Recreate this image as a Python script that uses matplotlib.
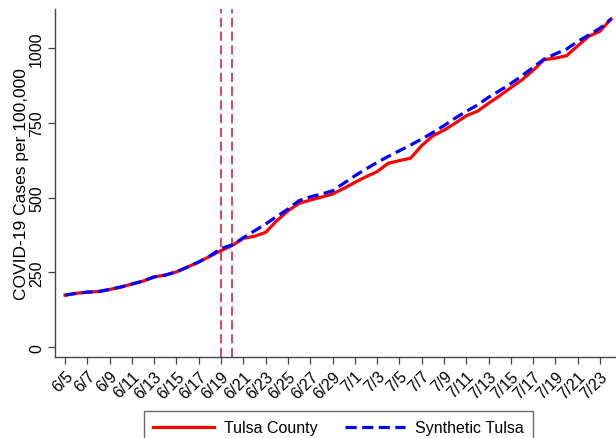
import matplotlib
matplotlib.use('Agg')
import matplotlib.pyplot as plt

plt.rcParams['font.family'] = ['Liberation Sans', 'DejaVu Sans']

# daily dates, 6/5 through 7/24
dates = ['6/5', '6/6', '6/7', '6/8', '6/9', '6/10', '6/11', '6/12', '6/13', '6/14',
         '6/15', '6/16', '6/17', '6/18', '6/19', '6/20', '6/21', '6/22', '6/23', '6/24',
         '6/25', '6/26', '6/27', '6/28', '6/29', '6/30', '7/1', '7/2', '7/3', '7/4',
         '7/5', '7/6', '7/7', '7/8', '7/9', '7/10', '7/11', '7/12', '7/13', '7/14',
         '7/15', '7/16', '7/17', '7/18', '7/19', '7/20', '7/21', '7/22', '7/23', '7/24']

tulsa = [174, 180, 184, 186, 193, 201, 211, 221, 235, 241,
         252, 268, 285, 304, 323, 340, 364, 371, 384, 423,
         456, 481, 492, 502, 512, 531, 551, 570, 587, 615,
         624, 632, 674, 707, 726, 749, 774, 789, 816, 841,
         868, 894, 926, 962, 967, 975, 1008, 1040, 1057, 1098]

synthetic = [174, 180, 184, 186, 193, 201, 211, 221, 235, 241,
             252, 268, 285, 305, 330, 342, 366, 389, 412, 437,
             462, 490, 503, 512, 523, 548, 573, 596, 618, 638,
             657, 676, 696, 718, 741, 766, 789, 810, 836, 858,
             882, 908, 936, 964, 981, 997, 1023, 1044, 1067, 1098]

event_dates = ['6/19', '6/20']
yticks = [0, 250, 500, 750, 1000]

x = list(range(len(dates)))

fig = plt.figure(figsize=(6.16, 4.39), dpi=100)
ax = fig.add_axes([0.0893, 0.1845, 0.91, 0.7925])

for d in event_dates:
    ax.axvline(dates.index(d), color='#c8143c', lw=1.1, linestyle=(0, (6, 3)), zorder=1)

ax.plot(x, tulsa, color='#ff0000', lw=2.3, label='Tulsa County', zorder=3)
ax.plot(x, synthetic, color='#0000ff', lw=2.3, linestyle=(0, (3.5, 1.7)),
        label='Synthetic Tulsa', zorder=4)

ax.set_xlim(-0.9, 49.4)
ax.set_ylim(-33, 1131)

ax.set_xticks(x[::2])
ax.set_xticklabels(dates[::2], rotation=45, ha='right', rotation_mode='anchor', fontsize=11.5)
ax.set_yticks(yticks)
ax.set_yticklabels([str(v) for v in yticks], rotation=90, va='center', fontsize=11.5)
ax.set_ylabel('COVID-19 Cases per 100,000', fontsize=12.5, labelpad=0)

for side in ['top', 'right']:
    ax.spines[side].set_visible(False)
for side in ['left', 'bottom']:
    ax.spines[side].set_color('#444444')
    ax.spines[side].set_linewidth(1.0)
ax.tick_params(axis='both', length=5, width=0.9, color='#444444', pad=3)

leg = fig.legend(loc='upper center', bbox_to_anchor=(0.5495, 0.08), ncol=2,
                 fontsize=11.5, frameon=True, fancybox=False, handlelength=3.8,
                 handletextpad=0.6, columnspacing=1.7, borderpad=0.6)
leg.get_frame().set_edgecolor('#444444')
leg.get_frame().set_linewidth(1.0)

plt.savefig('out.png', dpi=100)
plt.close()
